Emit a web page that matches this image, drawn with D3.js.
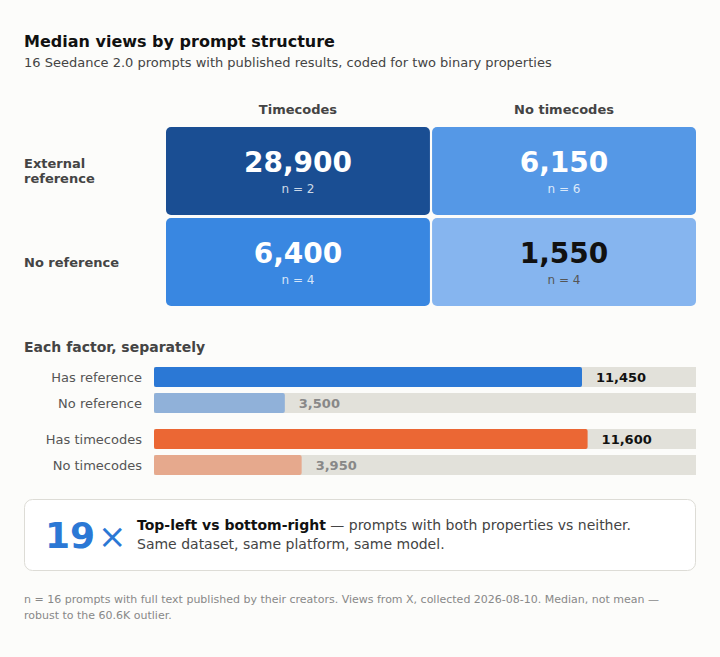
<!DOCTYPE html>
<html>
<head>
<meta charset="utf-8">
<script src="https://cdn.jsdelivr.net/npm/d3@7"></script>
<style>
  html, body { margin: 0; padding: 0; background: #fcfcfa; }
  svg { display: block; font-family: 'DejaVu Sans', sans-serif; }
</style>
</head>
<body>
<div id="vis"></div>
<script>
// grid: rows = reference, cols = timecodes
var rowLabels = [["External", "reference"], ["No reference"]];
var colLabels = ["Timecodes", "No timecodes"];
var cellValues = [[28900, 6150], [6400, 1550]];
var cellCounts = [[2, 6], [4, 4]];

// each factor separately
var barLabels = ["Has reference", "No reference", "Has timecodes", "No timecodes"];
var barValues = [11450, 3500, 11600, 3950];
var barGroups = [0, 0, 1, 1];

var width = 720, height = 657;
var fmt = d3.format(",");

var svg = d3.select("#vis").append("svg")
    .attr("width", width)
    .attr("height", height);

svg.append("text").attr("x", 24).attr("y", 47)
    .attr("font-size", 16).attr("font-weight", "bold").attr("fill", "#111")
    .text("Median views by prompt structure");
svg.append("text").attr("x", 24).attr("y", 67)
    .attr("font-size", 13).attr("fill", "#444")
    .text("16 Seedance 2.0 prompts with published results, coded for two binary properties");

// --- grid ---
var x = d3.scaleBand().domain([0, 1]).range([166, 696]).paddingInner(0.008);
var y = d3.scaleBand().domain([0, 1]).range([127, 306]).paddingInner(0.033);
var color = d3.scaleLinear()
    .domain([1550, 6150, 6400, 28900])
    .range(["#86b5ef", "#5598e6", "#3987e1", "#1a4e93"]);

svg.selectAll(".colhead").data(colLabels).join("text")
    .attr("x", function (d, i) { return x(i) + x.bandwidth() / 2; })
    .attr("y", 114)
    .attr("text-anchor", "middle")
    .attr("font-size", 13).attr("font-weight", "bold").attr("fill", "#444")
    .text(function (d) { return d; });

svg.selectAll(".rowhead").data(rowLabels).join("text")
    .attr("x", 24)
    .attr("y", function (d, i) { return y(i) + y.bandwidth() / 2 + 4.5 - (d.length - 1) * 7.5; })
    .attr("font-size", 13).attr("font-weight", "bold").attr("fill", "#444")
    .selectAll("tspan").data(function (d) { return d; }).join("tspan")
    .attr("x", 24)
    .attr("dy", function (d, i) { return i ? 15 : 0; })
    .text(function (d) { return d; });

var cells = [];
cellValues.forEach(function (row, r) {
    row.forEach(function (v, c) { cells.push({ r: r, c: c, v: v, n: cellCounts[r][c] }); });
});

var cell = svg.selectAll(".cell").data(cells).join("g")
    .attr("transform", function (d) { return "translate(" + x(d.c) + "," + y(d.r) + ")"; });
cell.append("rect")
    .attr("width", x.bandwidth()).attr("height", y.bandwidth())
    .attr("rx", 5)
    .attr("fill", function (d) { return color(d.v); });
cell.append("text")
    .attr("x", x.bandwidth() / 2).attr("y", 45)
    .attr("text-anchor", "middle")
    .attr("font-size", 28).attr("font-weight", "bold")
    .attr("fill", function (d) { return d.v < 3000 ? "#111" : "#fff"; })
    .text(function (d) { return fmt(d.v); });
cell.append("text")
    .attr("x", x.bandwidth() / 2).attr("y", 66)
    .attr("text-anchor", "middle")
    .attr("font-size", 12)
    .attr("fill", function (d) { return d.v < 3000 ? "#555" : "rgba(255,255,255,0.8)"; })
    .text(function (d) { return "n = " + d.n; });

// --- bars ---
svg.append("text").attr("x", 24).attr("y", 352)
    .attr("font-size", 14).attr("font-weight", "bold").attr("fill", "#444")
    .text("Each factor, separately");

var bx = d3.scaleLinear().domain([0, d3.max(barValues) * 1.25]).range([154, 696]);
var by = d3.scaleBand().domain(barLabels).range([367, 465]).paddingInner(6 / 26);
var barColors = ["#2b78d5", "#90b1d9", "#eb6734", "#e6a98d"];

var bar = svg.selectAll(".bar").data(barLabels).join("g")
    .attr("transform", function (d, i) { return "translate(0," + (by(d) + barGroups[i] * 10) + ")"; });
bar.append("rect")
    .attr("x", bx(0)).attr("width", bx.range()[1] - bx(0))
    .attr("height", by.bandwidth()).attr("fill", "#e2e1da");
bar.append("rect")
    .attr("x", bx(0)).attr("width", function (d, i) { return bx(barValues[i]) - bx(0); })
    .attr("height", by.bandwidth()).attr("rx", 2)
    .attr("fill", function (d, i) { return barColors[i]; });
bar.append("text")
    .attr("x", 142).attr("y", by.bandwidth() / 2 + 4.5)
    .attr("text-anchor", "end")
    .attr("font-size", 13).attr("fill", "#555")
    .text(function (d) { return d; });
bar.append("text")
    .attr("x", function (d, i) { return bx(barValues[i]) + 14; })
    .attr("y", by.bandwidth() / 2 + 4.5)
    .attr("font-size", 13).attr("font-weight", "bold")
    .attr("fill", function (d, i) { return i % 2 ? "#888" : "#111"; })
    .text(function (d, i) { return fmt(barValues[i]); });

// --- callout ---
var ratio = Math.round(cellValues[0][0] / cellValues[1][1]);
svg.append("rect")
    .attr("x", 24.5).attr("y", 499.5).attr("width", 671).attr("height", 71)
    .attr("rx", 8).attr("fill", "#fff").attr("stroke", "#dddcd6");
var big = svg.append("text").attr("x", 45).attr("y", 548)
    .attr("font-size", 36).attr("font-weight", "bold").attr("fill", "#2b78d5");
big.append("tspan").text(ratio);
big.append("tspan").attr("font-weight", "normal").attr("font-size", 34).attr("dx", 3).text("×");

var line1 = svg.append("text").attr("x", 137).attr("y", 530)
    .attr("font-size", 14).attr("fill", "#444");
line1.append("tspan").attr("font-weight", "bold").attr("fill", "#111").text("Top-left vs bottom-right");
line1.append("tspan").text(" — prompts with both properties vs neither.");
svg.append("text").attr("x", 137).attr("y", 549)
    .attr("font-size", 14).attr("fill", "#444")
    .text("Same dataset, same platform, same model.");

// --- footnote ---
var foot = ["n = 16 prompts with full text published by their creators. Views from X, collected 2026-08-10. Median, not mean —",
            "robust to the 60.6K outlier."];
svg.selectAll(".foot").data(foot).join("text")
    .attr("x", 24).attr("y", function (d, i) { return 603 + i * 16; })
    .attr("font-size", 11).attr("fill", "#888")
    .text(function (d) { return d; });
</script>
</body>
</html>
